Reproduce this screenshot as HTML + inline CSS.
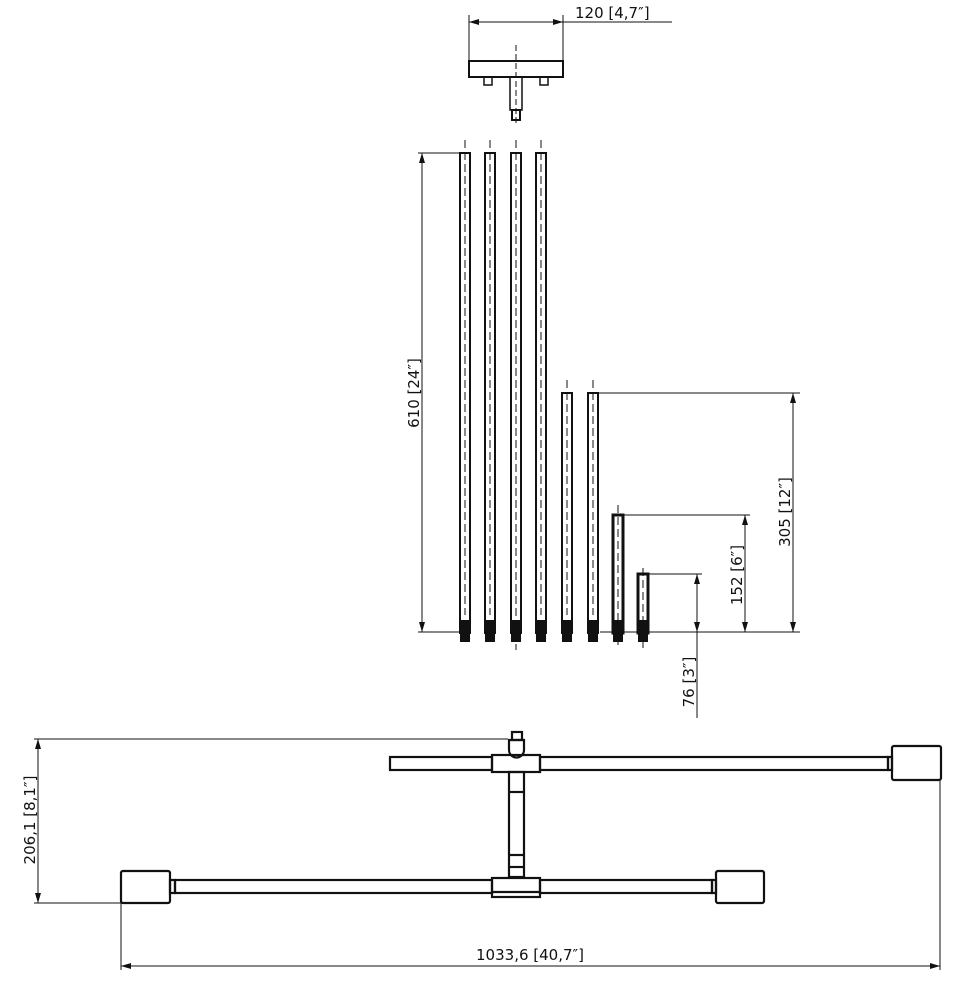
<!DOCTYPE html>
<html><head><style>
html,body{margin:0;padding:0;background:#fff}
svg{display:block}
text{font-family:"DejaVu Sans","Liberation Sans",sans-serif;font-size:15px;fill:#111}
</style></head><body>
<svg width="958" height="990" viewBox="0 0 958 990" xmlns="http://www.w3.org/2000/svg">
<defs>
<marker id="a" viewBox="0 0 10 6" refX="10" refY="3" markerWidth="10" markerHeight="6" orient="auto-start-reverse" markerUnits="userSpaceOnUse"><path d="M0,0L10,3L0,6z" fill="#111"/></marker>
</defs>
<g stroke="#111" fill="none" stroke-width="1">
<line x1="469" y1="15" x2="469" y2="60"/><line x1="563" y1="15" x2="563" y2="60"/>
<line x1="469" y1="22" x2="563" y2="22" marker-start="url(#a)" marker-end="url(#a)"/>
<line x1="563" y1="22" x2="672" y2="22"/>
<rect x="469" y="61" width="94" height="16" stroke-width="2"/>
<rect x="484" y="77" width="8" height="8" stroke-width="1.5"/>
<rect x="540" y="77" width="8" height="8" stroke-width="1.5"/>
<rect x="510" y="77" width="12" height="33" stroke-width="1.5"/>
<rect x="512" y="110" width="8" height="10" stroke-width="2"/>
<line x1="516" y1="45" x2="516" y2="125" stroke-dasharray="6,3"/>
<g stroke-width="2">
<rect x="460" y="153" width="10" height="480"/>
<rect x="485" y="153" width="10" height="480"/>
<rect x="511" y="153" width="10" height="480"/>
<rect x="536" y="153" width="10" height="480"/>
<rect x="562" y="393" width="10" height="240"/>
<rect x="588" y="393" width="10" height="240"/>
<rect x="613" y="515" width="10" height="118" stroke-width="3"/>
<rect x="638" y="574" width="10" height="59" stroke-width="3"/>
</g>
<g fill="#111" stroke="none">
<rect x="460" y="620" width="10" height="22"/><rect x="485" y="620" width="10" height="22"/>
<rect x="511" y="620" width="10" height="22"/><rect x="536" y="620" width="10" height="22"/>
<rect x="562" y="620" width="10" height="22"/><rect x="588" y="620" width="10" height="22"/>
<rect x="613" y="620" width="10" height="22"/><rect x="638" y="620" width="10" height="22"/>
</g>
<g stroke-dasharray="8,4">
<line x1="465" y1="140" x2="465" y2="615"/><line x1="490" y1="140" x2="490" y2="615"/>
<line x1="516" y1="140" x2="516" y2="650"/><line x1="541" y1="140" x2="541" y2="615"/>
<line x1="567" y1="380" x2="567" y2="615"/><line x1="593" y1="380" x2="593" y2="615"/>
<line x1="618" y1="505" x2="618" y2="648"/><line x1="643" y1="568" x2="643" y2="648"/>
</g>
<line x1="418" y1="153" x2="460" y2="153"/>
<line x1="418" y1="632" x2="460" y2="632"/><line x1="600" y1="632" x2="800" y2="632"/>
<line x1="422" y1="153" x2="422" y2="632" marker-start="url(#a)" marker-end="url(#a)"/>
<line x1="598" y1="393" x2="800" y2="393"/>
<line x1="793" y1="393" x2="793" y2="632" marker-start="url(#a)" marker-end="url(#a)"/>
<line x1="623" y1="515" x2="750" y2="515"/>
<line x1="745" y1="515" x2="745" y2="632" marker-start="url(#a)" marker-end="url(#a)"/>
<line x1="648" y1="574" x2="702" y2="574"/>
<line x1="697" y1="574" x2="697" y2="632" marker-start="url(#a)" marker-end="url(#a)"/>
<line x1="697" y1="632" x2="697" y2="718"/>
<g stroke-width="2.2">
<rect x="390" y="757" width="102" height="13"/>
<rect x="540" y="757" width="348" height="13"/>
<rect x="892" y="746" width="49" height="34" rx="2"/>
<rect x="888" y="757" width="4" height="13"/>
<rect x="492" y="755" width="48" height="17"/>
<rect x="512" y="732" width="10" height="8"/>
<path d="M509,740h15v10a7,7 0 0 1 -15,0z"/>
<rect x="509" y="772" width="15" height="105"/>
<line x1="509" y1="792" x2="524" y2="792"/>
<line x1="509" y1="855" x2="524" y2="855"/>
<line x1="509" y1="867" x2="524" y2="867"/>
<rect x="175" y="880" width="317" height="13"/>
<rect x="540" y="880" width="172" height="13"/>
<rect x="492" y="878" width="48" height="19"/>
<line x1="492" y1="892" x2="540" y2="892"/>
<rect x="121" y="871" width="49" height="32" rx="2"/>
<rect x="170" y="880" width="5" height="13"/>
<rect x="716" y="871" width="48" height="32" rx="2"/>
<rect x="712" y="880" width="4" height="13"/>
</g>
<line x1="34" y1="739" x2="508" y2="739"/>
<line x1="34" y1="903" x2="121" y2="903"/>
<line x1="38" y1="739" x2="38" y2="903" marker-start="url(#a)" marker-end="url(#a)"/>
<line x1="121" y1="903" x2="121" y2="970"/>
<line x1="940" y1="781" x2="940" y2="970"/>
<line x1="121" y1="966" x2="940" y2="966" marker-start="url(#a)" marker-end="url(#a)"/>
</g>
<text x="575" y="18">120 [4,7″]</text>
<text transform="translate(419,393) rotate(-90)" text-anchor="middle">610 [24″]</text>
<text transform="translate(790,512) rotate(-90)" text-anchor="middle">305 [12″]</text>
<text transform="translate(742,575) rotate(-90)" text-anchor="middle">152 [6″]</text>
<text transform="translate(694,682) rotate(-90)" text-anchor="middle">76 [3″]</text>
<text transform="translate(35,820) rotate(-90)" text-anchor="middle">206,1 [8,1″]</text>
<text x="530" y="960" text-anchor="middle">1033,6 [40,7″]</text>
</svg>
</body></html>
